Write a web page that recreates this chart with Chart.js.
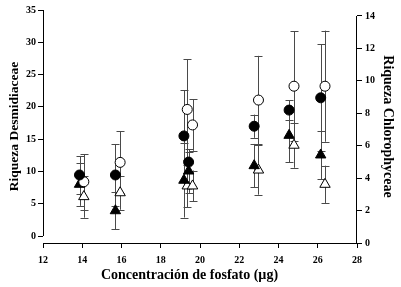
<!DOCTYPE html>
<html>
<head>
<meta charset="utf-8">
<script src="https://cdn.jsdelivr.net/npm/chart.js@4.4.1/dist/chart.umd.min.js"></script>
<style>
html,body{margin:0;padding:0;background:#fff;}
canvas{display:block;}
</style>
</head>
<body>
<canvas id="c" width="401" height="287"></canvas>
<script>
// Phosphate concentration (x) for the filled and open series
const xFilled = [13.86, 15.69, 19.18, 19.42, 22.76, 24.54, 26.15];
const xOpen   = [14.08, 15.93, 19.35, 19.62, 22.98, 24.79, 26.37];

// Desmidiaceae richness (left axis)
const desmFilled    = [9.45, 9.45, 15.5, 11.45, 17.0, 19.5, 21.4];
const desmFilledErr = [2.9, 4.8, 7.1, 1.55, 1.8, 1.5, 8.3];
const desmOpen      = [8.4, 11.4, 19.6, 17.2, 21.05, 23.2, 23.2];
const desmOpenErr   = [4.3, 4.8, 7.8, 4.0, 6.85, 8.5, 8.6];

// Chlorophyceae richness (right axis)
const chloFilled    = [3.62, 1.99, 3.87, 4.44, 4.77, 6.64, 5.43];
const chloFilledErr = [1.33, 1.15, 2.3, 1.35, 1.34, 1.67, 1.49];
const chloOpen      = [2.86, 3.1, 3.52, 3.52, 4.5, 6.03, 3.62];
const chloOpenErr   = [1.3, 1.05, 1.3, 0.95, 1.52, 1.39, 1.15];

// Tick labels
const xTicks     = [12, 14, 16, 18, 20, 22, 24, 26, 28];
const leftTicks  = [0, 5, 10, 15, 20, 25, 30, 35];
const rightTicks = [0, 2, 4, 6, 8, 10, 12, 14];

const pts = (xs, ys) => xs.map((x, i) => ({x: x, y: ys[i]}));

const tickFont = {family: 'Liberation Serif', size: 10, weight: 'bold'};
const xTitleFont = {family: 'Liberation Serif', size: 14, weight: 'bold'};
const lTitleFont = {family: 'Liberation Serif', size: 13.5, weight: 'bold'};
const rTitleFont = {family: 'Liberation Serif', size: 14, weight: 'bold'};

const errorBars = {
  id: 'errorBars',
  beforeDatasetsDraw(chart) {
    const ctx = chart.ctx;
    const xs = chart.scales.x;
    ctx.save();
    ctx.strokeStyle = '#4a4a4a';
    ctx.lineWidth = 1;
    chart.data.datasets.forEach(ds => {
      const ys = chart.scales[ds.yAxisID];
      ds.data.forEach((p, i) => {
        const e = ds.errors[i];
        const px = Math.round(xs.getPixelForValue(p.x)) + 0.5;
        const t = ys.getPixelForValue(p.y + e);
        const b = ys.getPixelForValue(p.y - e);
        ctx.beginPath();
        ctx.moveTo(px, t); ctx.lineTo(px, b);
        ctx.moveTo(px - 4, Math.round(t) + 0.5); ctx.lineTo(px + 4, Math.round(t) + 0.5);
        ctx.moveTo(px - 4, Math.round(b) + 0.5); ctx.lineTo(px + 4, Math.round(b) + 0.5);
        ctx.stroke();
      });
    });
    ctx.restore();
  }
};

const axisLines = {
  id: 'axisLines',
  afterDraw(chart) {
    const ctx = chart.ctx;
    const a = chart.chartArea;
    const l = chart.scales.yL, r = chart.scales.yR;
    ctx.save();
    ctx.strokeStyle = '#000';
    ctx.lineWidth = 1;
    ctx.beginPath();
    ctx.moveTo(a.left + 0.5, l.getPixelForValue(leftTicks[0]));
    ctx.lineTo(a.left + 0.5, l.getPixelForValue(leftTicks[leftTicks.length - 1]));
    ctx.moveTo(a.right - 0.5, r.getPixelForValue(rightTicks[0]));
    ctx.lineTo(a.right - 0.5, r.getPixelForValue(rightTicks[rightTicks.length - 1]));
    ctx.stroke();
    ctx.restore();
  }
};

const base = {showLine: false, borderWidth: 1, borderColor: '#000'};

new Chart(document.getElementById('c'), {
  type: 'scatter',
  data: {
    datasets: [
      Object.assign({}, base, {label: 'Desmidiaceae (filled)', data: pts(xFilled, desmFilled), errors: desmFilledErr, yAxisID: 'yL', pointStyle: 'circle', pointRadius: 5, backgroundColor: '#000'}),
      Object.assign({}, base, {label: 'Desmidiaceae (open)', data: pts(xOpen, desmOpen), errors: desmOpenErr, yAxisID: 'yL', pointStyle: 'circle', pointRadius: 5, backgroundColor: '#fff'}),
      Object.assign({}, base, {label: 'Chlorophyceae (filled)', data: pts(xFilled, chloFilled), errors: chloFilledErr, yAxisID: 'yR', pointStyle: 'triangle', pointRadius: 6, backgroundColor: '#000'}),
      Object.assign({}, base, {label: 'Chlorophyceae (open)', data: pts(xOpen, chloOpen), errors: chloOpenErr, yAxisID: 'yR', pointStyle: 'triangle', pointRadius: 6, backgroundColor: '#fff'})
    ]
  },
  options: {
    responsive: false,
    animation: false,
    devicePixelRatio: 1,
    layout: {padding: {top: 10, left: 0, right: 0, bottom: 0}},
    plugins: {legend: {display: false}, tooltip: {enabled: false}},
    elements: {point: {hoverRadius: 5}},
    scales: {
      x: {
        type: 'linear', position: 'bottom', min: 12, max: 28,
        afterBuildTicks: s => { s.ticks = xTicks.map(v => ({value: v})); },
        afterFit: s => { s.height = 44; },
        grid: {drawOnChartArea: false, drawTicks: true, tickLength: 5, color: '#000'},
        border: {display: true, color: '#000', width: 1},
        ticks: {color: '#000', font: tickFont, padding: 6, maxRotation: 0, autoSkip: false},
        title: {display: true, text: 'Concentración de fosfato (µg)\u00A0\u00A0\u00A0\u00A0\u00A0\u00A0', color: '#000', font: xTitleFont, padding: {top: 0, bottom: 3}}
      },
      yL: {
        type: 'linear', position: 'left', min: -1.084, max: 35,
        afterBuildTicks: s => { s.ticks = leftTicks.map(v => ({value: v})); },
        afterFit: s => { s.width = 43; },
        grid: {drawOnChartArea: false, drawTicks: true, tickLength: 5, color: '#000'},
        border: {display: false},
        ticks: {color: '#000', font: tickFont, padding: 2, autoSkip: false},
        title: {display: true, text: 'Riqueza Desmidiaceae', color: '#000', font: lTitleFont, padding: {top: 6, bottom: 0}}
      },
      yR: {
        type: 'linear', position: 'right', min: 0, max: 14.37,
        afterBuildTicks: s => { s.ticks = rightTicks.map(v => ({value: v})); },
        afterFit: s => { s.width = 44; },
        grid: {drawOnChartArea: false, drawTicks: true, tickLength: 5, color: '#000'},
        border: {display: false},
        ticks: {color: '#000', font: tickFont, padding: 3, autoSkip: false},
        title: {display: true, text: 'Riqueza Chlorophyceae', color: '#000', font: rTitleFont, padding: {top: 5, bottom: 0}}
      }
    }
  },
  plugins: [errorBars, axisLines]
});
</script>
</body>
</html>
